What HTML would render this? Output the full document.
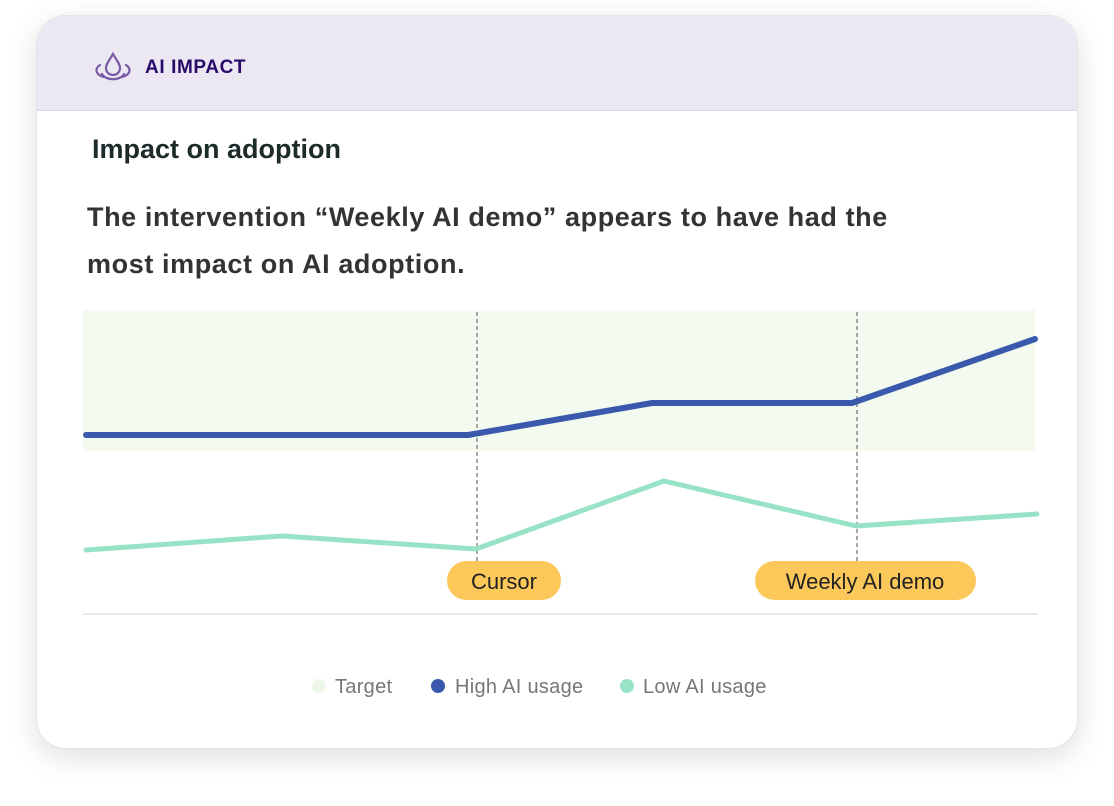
<!DOCTYPE html>
<html><head><meta charset="utf-8"><style>
body{margin:0;width:1114px;height:806px;background:#fff;font-family:"Liberation Sans",sans-serif;position:relative;overflow:hidden}
.card{position:absolute;left:36px;top:15px;width:1042px;height:734px;border-radius:30px;background:#fff;box-shadow:0 8px 30px rgba(0,0,0,0.13);overflow:hidden;border:1px solid #e4e4e8;box-sizing:border-box}
.hdr{position:absolute;left:0;top:0;width:100%;height:94px;background:#ebe7f3;border-bottom:1px solid #dcd8e6}
.t{position:absolute;white-space:nowrap}
</style></head><body>
<div class="card"><div class="hdr"></div></div>
<svg class="t" style="left:92px;top:50px" width="42" height="34" viewBox="0 0 42 34">
<path d="M21 4 C17 11 14 14 14 18 a7 7 0 0 0 14 0 C28 14 25 11 21 4Z" fill="none" stroke="#7a5aa6" stroke-width="2.2"/>
<path d="M8 15 C2 19 4 25 12 27 M34 15 C40 19 38 25 30 27 M10 24 C14 31 28 31 32 24" fill="none" stroke="#7a5aa6" stroke-width="2.2" stroke-linecap="round"/>
</svg>
<div class="t" style="left:145px;top:57px;font-size:19px;font-weight:bold;color:#2a0b6a;letter-spacing:0.6px">AI IMPACT</div>
<div class="t" style="left:92px;top:134px;font-size:27px;font-weight:bold;color:#1d2b2b">Impact on adoption</div>
<div class="t" style="left:87px;top:194px;font-size:27px;font-weight:bold;color:#333;line-height:47px;letter-spacing:0.6px">The intervention “Weekly AI demo” appears to have had the<br>most impact on AI adoption.</div>
<svg class="t" style="left:0;top:0" width="1114" height="806">
<rect x="83" y="310" width="952" height="141" fill="#f3fbf0"/>
<line x1="477" y1="312" x2="477" y2="565" stroke="#888" stroke-width="1.5" stroke-dasharray="4,3"/>
<line x1="857" y1="312" x2="857" y2="565" stroke="#888" stroke-width="1.5" stroke-dasharray="4,3"/>
<polyline points="86,435 468,435 652,403 852,403 1035,339" fill="none" stroke="#3a58ac" stroke-width="6" stroke-linecap="round" stroke-linejoin="round"/>
<polyline points="86,550 282,536 476,549 664,481 856,526 1037,514" fill="none" stroke="#98e3c6" stroke-width="5" stroke-linecap="round" stroke-linejoin="round"/>
<line x1="83" y1="614" x2="1038" y2="614" stroke="#e2e2e2" stroke-width="1.5"/>
<rect x="447" y="561" width="114" height="39" rx="19.5" fill="#fcc85a"/>
<rect x="755" y="561" width="221" height="39" rx="19.5" fill="#fcc85a"/>
<text x="504" y="589" text-anchor="middle" font-size="22" fill="#222" font-family="Liberation Sans">Cursor</text>
<text x="865" y="589" text-anchor="middle" font-size="22" fill="#222" font-family="Liberation Sans">Weekly AI demo</text>
<circle cx="319" cy="686" r="7" fill="#eef8ea"/>
<circle cx="438" cy="686" r="7" fill="#3a58ac"/>
<circle cx="627" cy="686" r="7" fill="#98e3c6"/>
<g font-size="20" fill="#777" font-family="Liberation Sans" letter-spacing="0.3">
<text x="335" y="693">Target</text><text x="455" y="693">High AI usage</text><text x="643" y="693">Low AI usage</text></g>
</svg>
</body></html>
